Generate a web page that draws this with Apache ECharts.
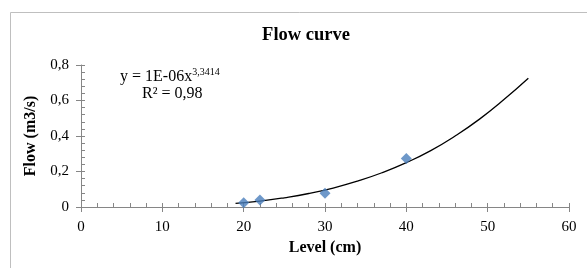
<!DOCTYPE html>
<html><head><meta charset="utf-8">
<script src="https://cdn.jsdelivr.net/npm/echarts@6/dist/echarts.min.js"></script>
<style>html,body{margin:0;padding:0;background:#fff}#c{width:587px;height:268px}</style>
</head><body><div id="c"></div>
<script>
const levels = [20, 22, 30, 40];
const flows = [0.024, 0.04, 0.077, 0.273];
const trendX = [19, 22, 25, 28, 31, 34, 37, 40, 43, 46, 49, 52, 55];
const trendY = [0.02, 0.033, 0.052, 0.076, 0.107, 0.146, 0.193, 0.25, 0.318, 0.4, 0.495, 0.605, 0.725];
const titleText = 'Flow curve';
const xName = 'Level (cm)';
const yName = 'Flow (m3/s)';

const chart = echarts.init(document.getElementById('c'), null, {renderer: 'canvas'});
const serif = '"Liberation Serif","Times New Roman",serif';
const axisGray = '#868686';
const lbl = {color: '#000', fontFamily: serif, fontSize: 15};
chart.setOption({
  animation: false,
  backgroundColor: '#fff',
  title: {text: titleText, left: 301, top: 21, textAlign: 'center',
    textStyle: {fontFamily: serif, fontWeight: 'bold', fontSize: 18.5, color: '#000'}},
  grid: {left: 81, right: 18, top: 65, bottom: 61, containLabel: false},
  xAxis: [
    {type: 'value', min: 0, max: 60, interval: 10, position: 'bottom',
      name: xName, nameLocation: 'middle', nameGap: 31,
      nameTextStyle: {fontFamily: serif, fontWeight: 'bold', fontSize: 16, color: '#000'},
      axisLine: {onZero: false, lineStyle: {color: axisGray}},
      axisTick: {inside: false, length: 5, lineStyle: {color: axisGray}},
      axisLabel: Object.assign({margin: 13}, lbl),
      splitLine: {show: false}},
    {type: 'value', min: 0, max: 60, interval: 2, position: 'bottom', offset: 0,
      axisLine: {show: false, onZero: false},
      axisTick: {inside: true, length: 4, lineStyle: {color: axisGray}},
      axisLabel: {show: false}, splitLine: {show: false}}
  ],
  yAxis: [
    {type: 'value', min: 0, max: 0.8, interval: 0.2, position: 'left',
      name: yName, nameLocation: 'middle', nameGap: 38, nameRotate: 90,
      nameTextStyle: {fontFamily: serif, fontWeight: 'bold', fontSize: 16, color: '#000'},
      axisLine: {show: true, onZero: false, lineStyle: {color: axisGray}},
      axisTick: {show: true, inside: false, length: 5, lineStyle: {color: axisGray}},
      axisLabel: Object.assign({margin: 12, formatter: v => v === 0 ? '0' : v.toFixed(1).replace('.', ',')}, lbl),
      splitLine: {show: false}},
    {type: 'value', min: 0, max: 0.8, interval: 0.04, position: 'left', offset: 0,
      axisLine: {show: false, onZero: false},
      axisTick: {show: true, inside: true, length: 4, lineStyle: {color: axisGray}},
      axisLabel: {show: false}, splitLine: {show: false}}
  ],
  graphic: [
    {type: 'rect', silent: true, shape: {x: 10.5, y: 12.5, width: 700, height: 400},
      style: {fill: 'none', stroke: '#bfbfbf', lineWidth: 1}},
    {type: 'text', left: 120, top: 67, silent: true,
      style: {text: '{a|y = 1E-06x}{s|3,3414}', rich: {
        a: {fontFamily: serif, fontSize: 16, color: '#000', verticalAlign: 'bottom', lineHeight: 18},
        s: {fontFamily: serif, fontSize: 10, color: '#000', verticalAlign: 'top', lineHeight: 18, padding: [0, 0, 7, 0]}}}},
    {type: 'text', left: 142, top: 86, silent: true,
      style: {text: 'R² = 0,98', fontFamily: serif, fontSize: 16, fill: '#000'}}
  ],
  series: [
    {type: 'line', xAxisIndex: 0, yAxisIndex: 0, data: trendX.map((x, i) => [x, trendY[i]]),
      smooth: true, showSymbol: false, lineStyle: {color: '#000', width: 1.3}, z: 2},
    {type: 'scatter', xAxisIndex: 0, yAxisIndex: 0, data: levels.map((x, i) => [x, flows[i]]),
      symbol: 'diamond', symbolSize: 11, itemStyle: {color: '#4a7ebb'}, z: 3}
  ]
});
</script></body></html>
